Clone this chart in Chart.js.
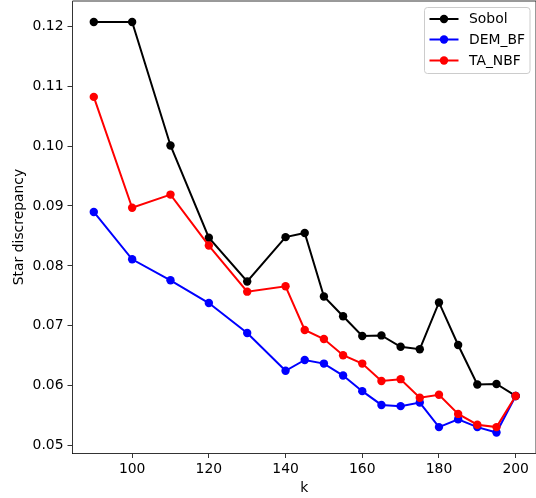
<html>
<head>
<title>Star discrepancy</title>
<script src="https://cdn.jsdelivr.net/npm/chart.js"></script>
<style>
  body { margin: 0; background: #fff; }
  #box { width: 536px; height: 498px; }
</style>
</head>
<body>
<div id="box"><canvas id="myChart" width="536" height="498"></canvas></div>
<script>
// values
const kValues = [90, 100, 110, 120, 130, 140, 145, 150, 155, 160, 165, 170, 175, 180, 185, 190, 195, 200];
const sobol  = [0.1207, 0.1207, 0.1001, 0.0847, 0.0774, 0.0848, 0.0855, 0.0749, 0.0716, 0.0683, 0.0684, 0.0665, 0.0661, 0.0739, 0.0668, 0.0602, 0.0603, 0.0583];
const demBF  = [0.0890, 0.0811, 0.0776, 0.0738, 0.0688, 0.0625, 0.0643, 0.0637, 0.0617, 0.0591, 0.0568, 0.0566, 0.0572, 0.0531, 0.0544, 0.0531, 0.0522, 0.0583];
const taNBF  = [0.1082, 0.0897, 0.0919, 0.0834, 0.0757, 0.0766, 0.0693, 0.0678, 0.0651, 0.0637, 0.0608, 0.0611, 0.0580, 0.0585, 0.0553, 0.0535, 0.0531, 0.0583];
const seriesNames = ['Sobol', 'DEM_BF', 'TA_NBF'];
const seriesColors = ['#000000', '#0000ff', '#ff0000'];
const xTicks = [100, 120, 140, 160, 180, 200];
const yTicks = [0.05, 0.06, 0.07, 0.08, 0.09, 0.10, 0.11, 0.12];

const font = { family: 'DejaVu Sans', size: 13.9 };

function pts(ys) {
  return kValues.map(function(k, i) { return { x: k, y: ys[i] }; });
}

function noPad(scale) {
  scale.paddingTop = 0;
  scale.paddingBottom = 0;
  scale.paddingLeft = 0;
  scale.paddingRight = 0;
}

// top/right spines and the legend box
const framePlugin = {
  id: 'frame',
  afterDatasetsDraw(chart) {
    const ctx = chart.ctx;
    const a = chart.chartArea;
    ctx.save();
    ctx.strokeStyle = '#000';
    ctx.lineWidth = 0.8;
    ctx.beginPath();
    ctx.moveTo(a.left, a.top);
    ctx.lineTo(a.right, a.top);
    ctx.lineTo(a.right, a.bottom);
    ctx.stroke();

    // legend
    const bx = 424.5, by = 7.5, bw = 105.5, bh = 66, r = 3;
    ctx.fillStyle = 'rgba(255,255,255,0.8)';
    ctx.strokeStyle = '#cccccc';
    ctx.lineWidth = 1;
    ctx.beginPath();
    ctx.roundRect(bx, by, bw, bh, r);
    ctx.fill();
    ctx.stroke();
    ctx.font = '13.9px "DejaVu Sans"';
    ctx.textBaseline = 'middle';
    const rows = [19, 39.5, 60.5];
    for (let i = 0; i < seriesNames.length; i++) {
      const y = rows[i];
      ctx.strokeStyle = seriesColors[i];
      ctx.lineWidth = 2;
      ctx.beginPath();
      ctx.moveTo(429.5, y);
      ctx.lineTo(458.5, y);
      ctx.stroke();
      ctx.fillStyle = seriesColors[i];
      ctx.beginPath();
      ctx.arc(444, y, 4.2, 0, Math.PI * 2);
      ctx.fill();
      ctx.fillStyle = '#000';
      ctx.fillText(seriesNames[i], 469, y + 0.5);
    }
    ctx.restore();
  }
};

function makeSet(i, ys, order) {
  return {
    label: seriesNames[i],
    data: pts(ys),
    borderColor: seriesColors[i],
    backgroundColor: seriesColors[i],
    borderWidth: 2,
    pointRadius: 4.2,
    pointHoverRadius: 4.2,
    pointBorderWidth: 0,
    tension: 0,
    order: order
  };
}

var ctx = document.getElementById('myChart').getContext('2d');
var myChart = new Chart(ctx, {
  type: 'line',
  data: {
    datasets: [
      makeSet(0, sobol, 3),
      makeSet(1, demBF, 2),
      makeSet(2, taNBF, 1)
    ]
  },
  plugins: [framePlugin],
  options: {
    responsive: false,
    animation: false,
    layout: { autoPadding: false, padding: { top: 1, right: 0, left: 0, bottom: 0 } },
    plugins: { legend: { display: false }, tooltip: { enabled: false } },
    scales: {
      x: {
        type: 'linear',
        min: 84.45,
        max: 205.3,
        afterBuildTicks: function(scale) { scale.ticks = xTicks.map(function(v) { return { value: v }; }); },
        afterFit: function(scale) { scale.height = 45; noPad(scale); },
        ticks: { color: '#000', font: font, padding: 3, maxRotation: 0 },
        grid: { drawOnChartArea: false, drawTicks: true, tickLength: 5, color: '#000', lineWidth: 0.8 },
        border: { display: true, color: '#000', width: 0.8 },
        title: { display: true, text: 'k', color: '#000', font: font, padding: { top: 0, bottom: 1 } }
      },
      y: {
        type: 'linear',
        min: 0.04878,
        max: 0.1242,
        afterBuildTicks: function(scale) { scale.ticks = yTicks.map(function(v) { return { value: v }; }); },
        afterFit: function(scale) { scale.width = 72.5; noPad(scale); },
        ticks: { color: '#000', font: font, padding: 4, callback: function(v) { return v.toFixed(2); } },
        grid: { drawOnChartArea: false, drawTicks: true, tickLength: 5, color: '#000', lineWidth: 0.8 },
        border: { display: true, color: '#000', width: 0.8 },
        title: { display: true, text: 'Star discrepancy', color: '#000', font: font, padding: { top: 11, bottom: 0 } }
      }
    }
  }
});
</script>
</body>
</html>
